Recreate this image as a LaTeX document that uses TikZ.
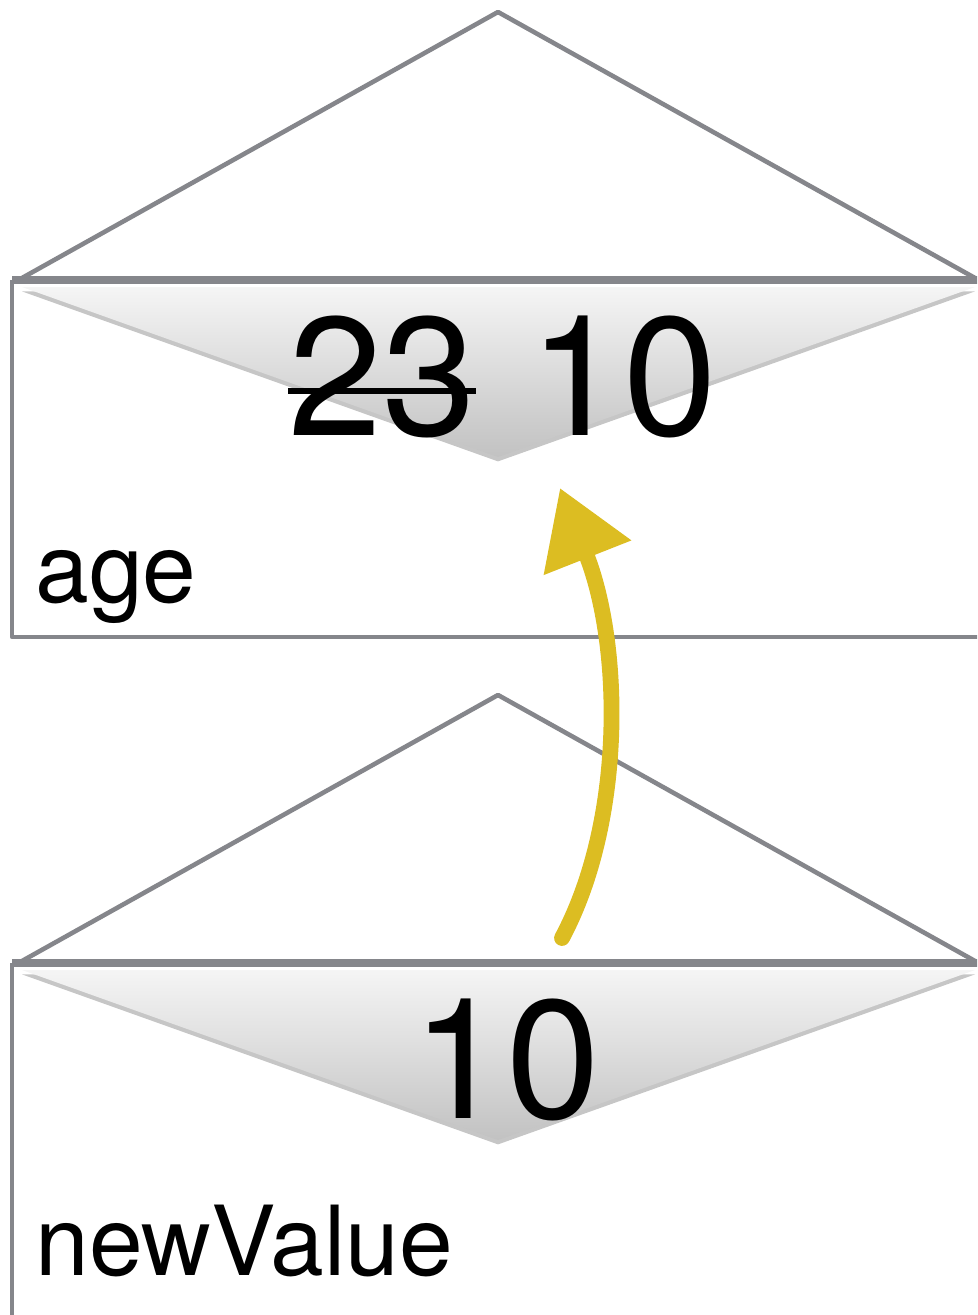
\documentclass[tikz,border=0pt]{standalone}
\usepackage{fontspec}
\setmainfont{TeX Gyre Heros}
\usetikzlibrary{arrows.meta, shadows}

\definecolor{envgray}{HTML}{85868B}
\definecolor{chalk}{HTML}{DCBD22}

\begin{document}
\begin{tikzpicture}[
    x=0.02cm, y=-0.02cm,
    envline/.style={envgray, line width=2.6pt, line join=round},
    flap/.style={top color=white!96!black, bottom color=black!24,
        drop shadow={opacity=0.45, shadow xshift=0pt, shadow yshift=-2.5pt}},
    value/.style={inner sep=0pt, anchor=base, font=\fontsize{96}{96}\selectfont},
    varname/.style={inner sep=0pt, anchor=base west, font=\fontsize{55}{55}\selectfont},
    chalkarrow/.style={chalk, line width=9pt, line cap=round,
        -{Triangle[length=1.5cm, width=1.8cm]}}
]
    \useasboundingbox (0,0) rectangle (977,1315);
    \clip (0,0) rectangle (977,1315);

    % 1. Two envelopes, the second one moved down
    \foreach \dy in {0,683} {
        \draw[envline] (22,278+\dy) -- (498,12+\dy) -- (975,278+\dy);
        \draw[envline] (1000,637+\dy) -- (12,637+\dy) -- (12,280+\dy);
        \draw[envline, line width=4pt] (12,280+\dy) -- (1000,280+\dy);
        \shade[flap] (22,287+\dy) -- (498,457+\dy) -- (975,287+\dy) -- cycle;
    }

    % 2. Contents of the variable age
    \node[value] (oldage) at (382,435) {23};
    \node[value] (newage) at (623,435) {10};
    \draw[black, line width=3pt] ([yshift=25pt]oldage.base west) -- ([yshift=25pt]oldage.base east);
    \node[varname] (agename) at (35,602) {age};

    % 3. Contents of the variable newValue
    \node[value] (newval) at (506,1118) {10};
    \node[varname] (valname) at (35,1275) {newValue};

    % 4. The value is copied up
    \coordinate (from) at (562,938);
    \coordinate (to) at (560,488);
    \draw[chalkarrow] (from) .. controls (625,820) and (622,645) .. (to);

\end{tikzpicture}
\end{document}
